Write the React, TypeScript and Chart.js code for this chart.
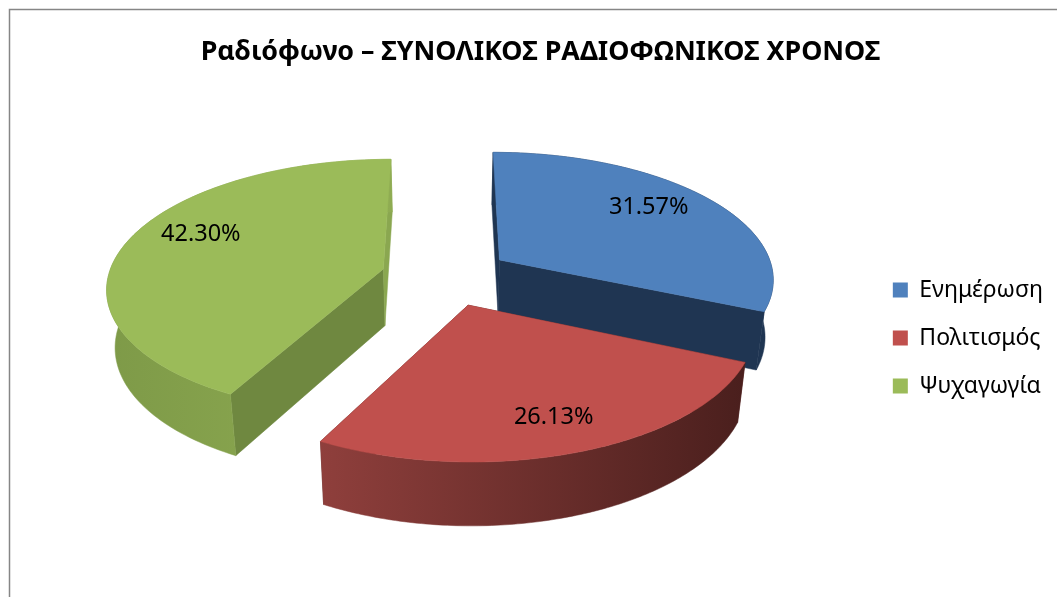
import React, { useEffect, useRef } from "react";
import { Chart, registerables } from "chart.js";

Chart.register(...registerables);

const TITLE = "Ραδιόφωνο – ΣΥΝΟΛΙΚΟΣ ΡΑΔΙΟΦΩΝΙΚΟΣ ΧΡΟΝΟΣ";
const categories = ["Ενημέρωση", "Πολιτισμός", "Ψυχαγωγία"];
const shares = [31.57, 26.13, 42.3];
const topColors = ["#4F81BD", "#C0504D", "#9BBB59"];
const rimLeftColors = ["#1F3552", "#8F3F3C", "#7E9A48"];
const rimRightColors = ["#1F3552", "#4A1F1D", "#8FAC52"];
const startCutColors = ["#1F3552", "#5A2624", "#6F8840"];
const endCutColors = ["#1F3552", "#5A2624", "#8AA750"];
const labelReach = [0.75, 0.79, 0.76];
const labelTurnDeg = [-3, 0, 6.5];
const drawOrder = [0, 2, 1];

const FONT = "'Noto Sans', sans-serif";
const CX = 446;
const CY = 276;
const SQUASH = 0.46;
const PERSPECTIVE = 0.0005;
const DEPTH = 57;
const BOTTOM_SCALE = 0.975;
const LEGEND_DROP = 21.5;

function project(u: number, v: number, bottom: boolean): [number, number] {
  const s = 1 / (1 - PERSPECTIVE * v);
  let x = CX + s * u;
  let y = CY + s * SQUASH * v;
  if (bottom) {
    x = CX + (x - CX) * BOTTOM_SCALE;
    y = CY + (y - CY) * BOTTOM_SCALE + DEPTH * s;
  }
  return [x, y];
}

function fillPoly(ctx: CanvasRenderingContext2D, pts: [number, number][], fill: any) {
  ctx.beginPath();
  pts.forEach((p, i) => (i ? ctx.lineTo(p[0], p[1]) : ctx.moveTo(p[0], p[1])));
  ctx.closePath();
  ctx.fillStyle = fill;
  ctx.fill();
  ctx.strokeStyle = fill;
  ctx.lineWidth = 0.5;
  ctx.stroke();
}

const pie3d = {
  id: "pie3d",
  afterLayout(chart: any) {
    chart.legend.top += LEGEND_DROP;
    chart.legend.bottom += LEGEND_DROP;
  },
  beforeDraw(chart: any) {
    const { ctx, width, height } = chart;
    ctx.save();
    ctx.fillStyle = "#ffffff";
    ctx.fillRect(0, 0, width, height);
    ctx.strokeStyle = "#868686";
    ctx.lineWidth = 1.5;
    ctx.beginPath();
    ctx.moveTo(width, 9.5);
    ctx.lineTo(9.5, 9.5);
    ctx.lineTo(9.5, height);
    ctx.stroke();
    ctx.restore();
  },
  beforeDatasetsDraw(chart: any) {
    const ctx: CanvasRenderingContext2D = chart.ctx;
    const arcs = chart.getDatasetMeta(0).data;
    ctx.save();
    for (const i of drawOrder) {
      const arc = arcs[i];
      const { startAngle, endAngle, outerRadius } = arc.getProps(["startAngle", "endAngle", "outerRadius"]);
      const off = arc.options.offset;
      const mid = (startAngle + endAngle) / 2;
      const ax = off * Math.cos(mid);
      const ay = off * Math.sin(mid);
      const steps = 120;
      const rimTop: [number, number][] = [];
      const rimBot: [number, number][] = [];
      for (let k = 0; k <= steps; k++) {
        const a = startAngle + ((endAngle - startAngle) * k) / steps;
        const u = ax + outerRadius * Math.cos(a);
        const v = ay + outerRadius * Math.sin(a);
        rimTop.push(project(u, v, false));
        rimBot.push(project(u, v, true));
      }
      const apexT = project(ax, ay, false);
      const apexB = project(ax, ay, true);
      fillPoly(ctx, [apexT, rimTop[0], rimBot[0], apexB], startCutColors[i]);
      fillPoly(ctx, [apexT, rimTop[steps], rimBot[steps], apexB], endCutColors[i]);
      const xs = rimTop.concat(rimBot).map((p) => p[0]);
      const grad = ctx.createLinearGradient(Math.min(...xs), 0, Math.max(...xs), 0);
      grad.addColorStop(0, rimLeftColors[i]);
      grad.addColorStop(1, rimRightColors[i]);
      fillPoly(ctx, rimTop.concat(rimBot.slice().reverse()), grad);
      fillPoly(ctx, [apexT, ...rimTop], arc.options.backgroundColor);
    }
    ctx.fillStyle = "#000000";
    ctx.font = `23.5px ${FONT}`;
    ctx.textAlign = "center";
    ctx.textBaseline = "middle";
    arcs.forEach((arc: any, i: number) => {
      const { startAngle, endAngle, outerRadius } = arc.getProps(["startAngle", "endAngle", "outerRadius"]);
      const mid = (startAngle + endAngle) / 2 + (labelTurnDeg[i] * Math.PI) / 180;
      const r = arc.options.offset + outerRadius * labelReach[i];
      const [x, y] = project(r * Math.cos(mid), r * Math.sin(mid), false);
      ctx.fillText(shares[i].toFixed(2) + "%", x, y);
    });
    ctx.restore();
    return false;
  },
};

export default function App() {
  const ref = useRef<HTMLCanvasElement>(null);
  useEffect(() => {
    document.body.style.margin = "0";
    const chart = new Chart(ref.current as HTMLCanvasElement, {
      type: "pie",
      data: {
        labels: categories,
        datasets: [{ data: shares, backgroundColor: topColors, borderWidth: 0, offset: 65 }],
      },
      plugins: [pie3d],
      options: {
        animation: false,
        responsive: false,
        radius: 275,
        layout: { padding: { left: 28, right: 4, top: 36, bottom: 0 } },
        plugins: {
          tooltip: { enabled: false },
          title: {
            display: true,
            text: TITLE,
            color: "#000000",
            font: { family: FONT, size: 26.8, weight: "bold" },
            padding: { top: 0, bottom: 20 },
          },
          legend: {
            position: "right",
            labels: {
              color: "#000000",
              boxWidth: 15,
              boxHeight: 15,
              padding: 25,
              font: { family: FONT, size: 23 },
            },
          },
        },
      },
    } as any);
    return () => chart.destroy();
  }, []);
  return <canvas ref={ref} width={1057} height={597} style={{ display: "block" }} />;
}
